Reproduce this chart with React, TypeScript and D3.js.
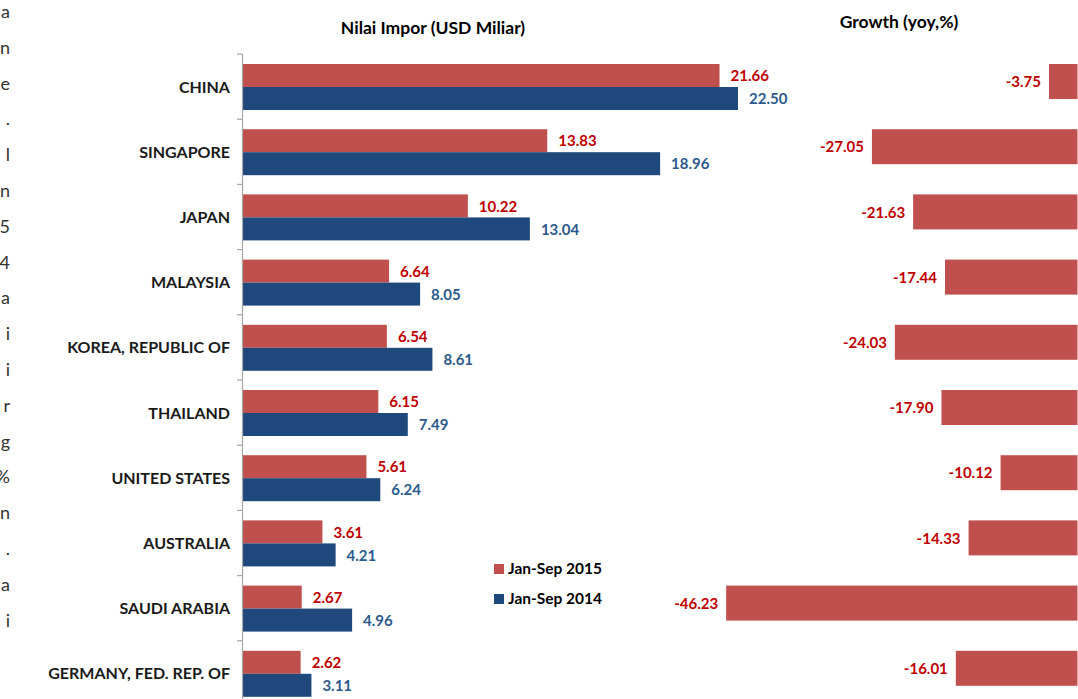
import React from "react";
import * as d3 from "d3";

const categories = [
  "CHINA",
  "SINGAPORE",
  "JAPAN",
  "MALAYSIA",
  "KOREA, REPUBLIC OF",
  "THAILAND",
  "UNITED STATES",
  "AUSTRALIA",
  "SAUDI ARABIA",
  "GERMANY, FED. REP. OF",
];
const imports2015 = [21.66, 13.83, 10.22, 6.64, 6.54, 6.15, 5.61, 3.61, 2.67, 2.62];
const imports2014 = [22.5, 18.96, 13.04, 8.05, 8.61, 7.49, 6.24, 4.21, 4.96, 3.11];
const growth = [-3.75, -27.05, -21.63, -17.44, -24.03, -17.9, -10.12, -14.33, -46.23, -16.01];
const series = ["Jan-Sep 2015", "Jan-Sep 2014"];
const sideLetters = ["a", "n", "e", ".", "l", "n", "5", "4", "a", "i", "i", "r", "g", "%", "n", ".", "a", "i"];

const RED = "#C0504D";
const BLUE = "#1F497D";
const RED_TXT = "#C00000";
const BLUE_TXT = "#2C5A8C";
const FONT = "Lato, 'Open Sans', sans-serif";

export default function App() {
  const W = 1078;
  const H = 699;
  const y = d3.scaleBand<string>().domain(categories).range([54, 54 + 65.2 * 10]).paddingInner(0);
  const x = d3.scaleLinear().domain([0, 25]).range([243, 243 + 550]);
  const g = d3.scaleLinear().domain([-50, 0]).range([1077.5 - 380, 1077.5]);
  const ticks = d3.range(categories.length + 1).map((i) => 54 + 65.2 * i);

  return (
    <svg
      width={W}
      height={H}
      style={{ position: "absolute", left: 0, top: 0, display: "block", background: "#fff" }}
      fontFamily={FONT}
    >
      {sideLetters.map((l, i) => (
        <text key={"s" + i} x={10} y={18 + i * 35.8} textAnchor="end" fontSize={18} fill="#333">
          {l}
        </text>
      ))}

      <text x={433} y={34} textAnchor="middle" fontSize={17.5} fontWeight="bold" fill="#000">
        Nilai Impor (USD Miliar)
      </text>
      <text x={899} y={28} textAnchor="middle" fontSize={17.5} fontWeight="bold" fill="#000">
        Growth (yoy,%)
      </text>

      {categories.map((c, i) => {
        const y0 = y(c)!;
        return (
          <g key={c}>
            <rect x={x(0)} y={y0 + 10} width={x(imports2015[i]) - x(0)} height={23} fill={RED} />
            <rect x={x(0)} y={y0 + 33} width={x(imports2014[i]) - x(0)} height={23} fill={BLUE} />
            <text x={x(imports2015[i]) + 11} y={y0 + 22} dy="0.35em" fontSize={15} fontWeight="bold" fill={RED_TXT}>
              {imports2015[i].toFixed(2)}
            </text>
            <text x={x(imports2014[i]) + 11} y={y0 + 45} dy="0.35em" fontSize={15} fontWeight="bold" fill={BLUE_TXT}>
              {imports2014[i].toFixed(2)}
            </text>
            <text x={230} y={y0 + 33} dy="0.35em" textAnchor="end" fontSize={16} fontWeight="bold" fill="#1a1a1a">
              {c}
            </text>
            <rect x={g(growth[i])} y={y0 + 10} width={g(0) - g(growth[i])} height={35} fill={RED} />
            <text x={g(growth[i]) - 8} y={y0 + 28} dy="0.35em" textAnchor="end" fontSize={15} fontWeight="bold" fill={RED_TXT}>
              {growth[i].toFixed(2)}
            </text>
          </g>
        );
      })}

      <line x1={242.5} x2={242.5} y1={54} y2={H} stroke="#A6A6A6" strokeWidth={1.2} />
      {ticks.map((t, i) => (
        <line key={"t" + i} x1={237} x2={242.5} y1={t} y2={t} stroke="#A6A6A6" strokeWidth={1.2} />
      ))}

      {series.map((s, i) => (
        <g key={s}>
          <rect x={494} y={564 + i * 30} width={10} height={10} fill={i === 0 ? RED : BLUE} />
          <text x={508} y={569 + i * 30} dy="0.35em" fontSize={15.5} fontWeight="bold" fill="#000">
            {s}
          </text>
        </g>
      ))}
    </svg>
  );
}
